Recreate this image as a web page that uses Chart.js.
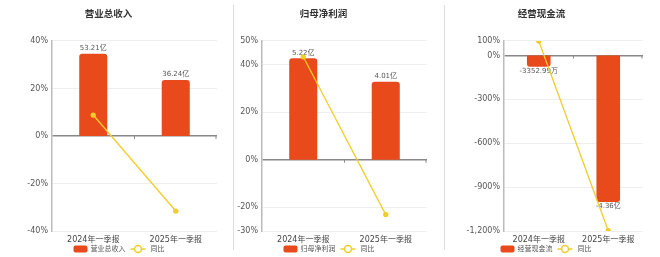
<!DOCTYPE html>
<html lang="zh">
<head>
<meta charset="utf-8">
<script src="https://cdn.jsdelivr.net/npm/chart.js@4.4.1/dist/chart.umd.min.js"></script>
<style>
    html, body { margin: 0; padding: 0; background: #fff; }
    #wrap { position: relative; width: 660px; height: 257px; overflow: hidden; }
    #wrap canvas { position: absolute; top: 0; }
    .sep { position: absolute; top: 5px; height: 245px; width: 1px; background: #dcdcdc; }
</style>
</head>
<body>
<div id="wrap">
    <canvas id="c1" width="238" height="257" style="left:0"></canvas>
    <div class="sep" style="left:233px"></div>
    <canvas id="c2" width="218" height="257" style="left:220px"></canvas>
    <div class="sep" style="left:444px"></div>
    <canvas id="c3" width="212" height="257" style="left:440px"></canvas>
</div>
<script>
// 报告期
const periods = ['2024年一季报', '2025年一季报'];

// 营业总收入（亿）及同比（%）
const revenue = [53.21, 36.24];
const revenueText = ['53.21亿', '36.24亿'];
const revenueYoy = [8.8, -31.6];
const revenueTicks = [-40, -20, 0, 20, 40];

// 归母净利润（亿）及同比（%）
const profit = [5.22, 4.01];
const profitText = ['5.22亿', '4.01亿'];
const profitYoy = [43.3, -23.1];
const profitTicks = [-30, -20, 0, 20, 40, 50];

// 经营现金流（亿）及同比（%）
const cashflow = [-0.3353, -4.36];
const cashflowText = ['-3352.99万', '-4.36亿'];
const cashflowYoy = [99, -1198];
const cashflowTicks = [-1200, -900, -600, -300, 0, 100];

const FONT = '"DejaVu Sans", "Noto Sans CJK SC", sans-serif';
const BAR_COLOR = '#E84A1C';
const LINE_COLOR = '#F0CD2A';

Chart.defaults.font.family = FONT;
Chart.defaults.color = '#555';

// 数据标签、零轴刻度、图例
const panelDecor = {
    id: 'panelDecor',
    beforeDatasetsDraw(chart) {
        const ctx = chart.ctx;
        const x = chart.scales.x;
        const zeroY = chart.scales.y.getPixelForValue(0);
        const marks = [(x.getPixelForTick(0) + x.getPixelForTick(1)) / 2, chart.chartArea.right - 1];
        ctx.save();
        ctx.strokeStyle = '#888';
        ctx.lineWidth = 1;
        marks.forEach(m => {
            ctx.beginPath();
            ctx.moveTo(m, zeroY);
            ctx.lineTo(m, zeroY + 3);
            ctx.stroke();
        });
        ctx.restore();
    },
    afterDatasetDraw(chart, args, opts) {
        if (args.index !== 0) return;
        const ctx = chart.ctx;
        const values = chart.data.datasets[0].data;
        ctx.save();
        ctx.font = '7px ' + FONT;
        ctx.fillStyle = '#555';
        ctx.textAlign = 'center';
        args.meta.data.forEach((bar, i) => {
            const neg = values[i] < 0;
            ctx.textBaseline = neg ? 'top' : 'bottom';
            ctx.fillText(opts.texts[i], bar.x, neg ? bar.y + 1 : bar.y - 2);
        });
        ctx.restore();
    },
    afterDraw(chart) {
        const ctx = chart.ctx;
        const barName = chart.data.datasets[0].label;
        const lineName = chart.data.datasets[1].label;
        ctx.save();
        ctx.font = '7px ' + FONT;
        const w1 = ctx.measureText(barName).width;
        const w2 = ctx.measureText(lineName).width;
        const total = 14 + 3 + w1 + 5 + 15 + 5 + w2;
        let cx = chart.width / 2 - total / 2;
        const cy = 249;
        // 柱形图例
        ctx.fillStyle = BAR_COLOR;
        ctx.beginPath();
        ctx.roundRect(cx, cy - 3.5, 14, 7, 2);
        ctx.fill();
        cx += 17;
        ctx.fillStyle = '#555';
        ctx.textBaseline = 'middle';
        ctx.fillText(barName, cx, cy);
        cx += w1 + 5;
        // 折线图例
        ctx.strokeStyle = LINE_COLOR;
        ctx.lineWidth = 1.5;
        ctx.beginPath();
        ctx.moveTo(cx, cy);
        ctx.lineTo(cx + 15, cy);
        ctx.stroke();
        ctx.beginPath();
        ctx.arc(cx + 7.5, cy, 3.5, 0, Math.PI * 2);
        ctx.fillStyle = '#fff';
        ctx.fill();
        ctx.stroke();
        cx += 20;
        ctx.fillStyle = '#555';
        ctx.fillText(lineName, cx, cy);
        ctx.restore();
    }
};

function makeChart(id, title, barName, bars, texts, yoy, ticks, barScale, axisWidth, padRight) {
    const yMin = Math.min(...ticks);
    const yMax = Math.max(...ticks);
    return new Chart(document.getElementById(id), {
        type: 'bar',
        data: {
            labels: periods,
            datasets: [{
                label: barName,
                data: bars,
                yAxisID: 'yb',
                backgroundColor: BAR_COLOR,
                borderRadius: 3,
                categoryPercentage: 1,
                barPercentage: 0.34,
                order: 1
            }, {
                type: 'line',
                label: '同比',
                data: yoy,
                yAxisID: 'y',
                borderColor: LINE_COLOR,
                borderWidth: 1.3,
                pointRadius: 2,
                pointBackgroundColor: LINE_COLOR,
                pointBorderColor: LINE_COLOR,
                order: 0
            }]
        },
        options: {
            responsive: false,
            animation: false,
            layout: { padding: { left: 0, right: padRight, top: 0, bottom: 0 } },
            plugins: {
                legend: { display: false },
                tooltip: { enabled: false },
                title: {
                    display: true,
                    text: title,
                    color: '#333',
                    font: { size: 9.5, weight: 'bold', family: FONT },
                    padding: { top: 8.5, bottom: 21 }
                },
                panelDecor: { texts: texts }
            },
            scales: {
                x: {
                    grid: { display: false, drawTicks: false },
                    border: { display: false },
                    ticks: { color: '#444', font: { size: 8 }, padding: 4, maxRotation: 0 },
                    afterFit: s => { s.height = 26; }
                },
                y: {
                    position: 'left',
                    min: yMin,
                    max: yMax,
                    afterBuildTicks: s => { s.ticks = ticks.map(v => ({ value: v })); },
                    ticks: {
                        color: '#555',
                        font: { size: 8 },
                        padding: 4,
                        callback: v => v.toLocaleString('en-US') + '%'
                    },
                    grid: {
                        drawTicks: false,
                        color: c => (c.tick && c.tick.value === 0 ? '#888' : '#eeeeee'),
                        lineWidth: c => (c.tick && c.tick.value === 0 ? 1.5 : 1)
                    },
                    border: { display: true, color: '#bbb', width: 1.5 },
                    afterFit: s => { s.width = axisWidth; }
                },
                yb: {
                    display: false,
                    min: yMin * barScale,
                    max: yMax * barScale
                }
            }
        },
        plugins: [panelDecor]
    });
}

makeChart('c1', '营业总收入', '营业总收入', revenue, revenueText, revenueYoy, revenueTicks, 1.54, 52, 21);
makeChart('c2', '归母净利润', '归母净利润', profit, profitText, profitYoy, profitTicks, 0.1222, 42, 11);
makeChart('c3', '经营现金流', '经营现金流', cashflow, cashflowText, cashflowYoy, cashflowTicks, 0.00435, 64, 9);
</script>
</body>
</html>
